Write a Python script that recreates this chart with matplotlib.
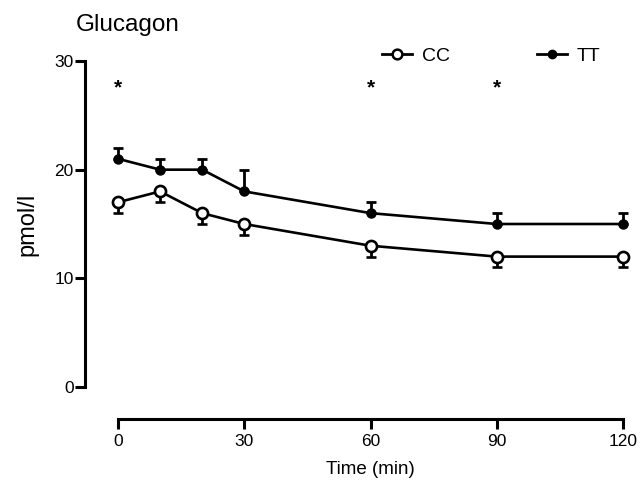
import matplotlib
matplotlib.use("Agg")
import matplotlib.pyplot as plt
from matplotlib.lines import Line2D

plt.rcParams['font.family'] = ['Liberation Sans', 'DejaVu Sans']

time = [0, 10, 20, 30, 60, 90, 120]
cc_mean = [17, 18, 16, 15, 13, 12, 12]
cc_err = [1, 1, 1, 1, 1, 1, 1]
tt_mean = [21, 20, 20, 18, 16, 15, 15]
tt_err = [1, 1, 1, 2, 1, 1, 1]
star_times = [0, 60, 90]
star_level = 27.5
xticks = [0, 30, 60, 90, 120]
yticks = [0, 10, 20, 30]

W, H = 641, 480
fig = plt.figure(figsize=(W / 100, H / 100), dpi=100)
ax = fig.add_axes([118 / W, (H - 387) / H, (623 - 118) / W, (387 - 61) / H])

lw = 1.9
# TT: filled, error bars upward
ax.errorbar(time, tt_mean, yerr=[[0] * len(tt_err), tt_err], color='black', lw=lw,
            marker='o', ms=6.5, mfc='black', mec='black', capsize=3.5, capthick=2,
            elinewidth=2, zorder=3, clip_on=False)
# CC: open, error bars downward
ax.errorbar(time, cc_mean, yerr=[cc_err, [0] * len(cc_err)], color='black', lw=lw,
            marker='o', ms=8, mfc='white', mec='black', mew=1.9, capsize=3.5, capthick=2,
            elinewidth=2, zorder=3, clip_on=False)

for t in star_times:
    ax.text(t, star_level, '*', ha='center', va='center', fontsize=15, fontweight='bold')

ax.set_xlim(0, 120)
ax.set_ylim(0, 30)
ax.set_xticks(xticks)
ax.set_yticks(yticks)
ax.tick_params(axis='both', width=2.2, length=7, labelsize=12.5)
ax.tick_params(axis='y', pad=1)
ax.tick_params(axis='x', pad=4)
ax.spines['top'].set_visible(False)
ax.spines['right'].set_visible(False)
ax.spines['left'].set_linewidth(2.2)
ax.spines['bottom'].set_linewidth(2.2)
ax.spines['left'].set_position(('outward', 24))
ax.spines['bottom'].set_position(('outward', 23))

ax.set_xlabel('Time (min)', fontsize=13.5)
ax.xaxis.label.set_va('center')
ax.xaxis.set_label_coords(0.5, (H - 470 - (H - 387)) / (387 - 61))
ax.set_ylabel('pmol/l', fontsize=17)
ax.yaxis.label.set_va('center')
ax.yaxis.set_label_coords((27 - 118) / (623 - 118), (H - 224 - (H - 387)) / (387 - 61))

fig.text(76 / W, 1 - 25 / H, 'Glucagon', fontsize=17.5, ha='left', va='center')

handles = [
    Line2D([0], [0], color='black', lw=2, marker='o', ms=7, mfc='white', mec='black', mew=1.8),
    Line2D([0], [0], color='black', lw=2, marker='o', ms=6, mfc='black'),
]
fig.legend([handles[0]], ['CC'], loc='center left', bbox_to_anchor=(382 / W, 1 - 56 / H),
           frameon=False, fontsize=14, handlelength=1.55, handletextpad=0.5,
           borderpad=0, borderaxespad=0)
fig.legend([handles[1]], ['TT'], loc='center left', bbox_to_anchor=(537 / W, 1 - 56 / H),
           frameon=False, fontsize=14, handlelength=1.55, handletextpad=0.5,
           borderpad=0, borderaxespad=0)

fig.savefig('out.png', dpi=100)
